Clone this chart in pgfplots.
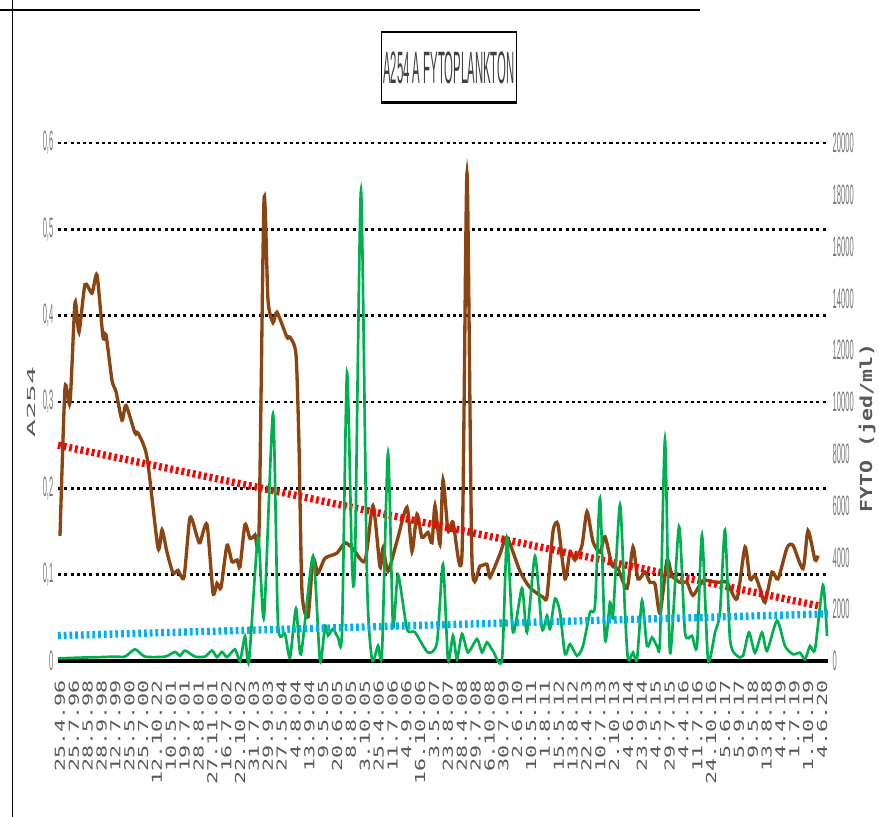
\documentclass[border=0pt]{standalone}
\usepackage{fontspec}
\usepackage{pgfplots}
\pgfplotsset{compat=1.18}
\setmainfont{Liberation Sans}
\newfontfamily\tickfont[FakeStretch=0.27]{Liberation Sans}
\newfontfamily\titlefont[FakeStretch=0.25]{Liberation Sans}
\newfontfamily\xlabfont[FakeStretch=1.58]{DejaVu Sans Mono}
\newfontfamily\alabfont[FakeStretch=2.7]{DejaVu Sans Mono}
\newfontfamily\flabfont[FakeStretch=1.3]{DejaVu Sans Mono}
\definecolor{brn}{RGB}{139,69,19}
\definecolor{grn}{RGB}{0,176,80}
\definecolor{blu}{RGB}{0,176,240}
\definecolor{tk}{RGB}{120,120,120}
\definecolor{lab}{RGB}{89,89,89}
\definecolor{ttl}{RGB}{64,64,64}

\pgfplotstableread{
x y
60 0.145
65 0.316
70 0.299
75 0.415
79 0.381
85 0.436
92 0.426
97 0.447
103 0.375
106 0.378
112 0.325
116 0.312
122 0.279
126 0.296
135 0.264
138 0.264
147 0.236
158 0.131
162 0.152
167 0.126
173 0.102
178 0.105
184 0.097
190 0.166
197 0.144
200 0.137
207 0.158
213 0.079
217 0.090
221 0.085
227 0.134
232 0.115
237 0.117
240 0.109
245 0.158
250 0.142
255 0.146
259 0.150
264 0.534
268 0.418
273 0.392
277 0.404
287 0.375
290 0.375
296 0.355
299 0.250
302 0.080
308 0.051
313 0.118
318 0.102
325 0.119
337 0.125
345 0.137
353 0.130
365 0.116
373 0.180
380 0.109
383 0.131
388 0.104
397 0.139
407 0.178
412 0.127
417 0.170
422 0.143
428 0.149
432 0.137
435 0.180
440 0.135
443 0.210
448 0.151
453 0.161
462 0.124
467 0.565
472 0.116
480 0.110
487 0.112
490 0.097
500 0.124
507 0.143
520 0.104
530 0.085
543 0.074
547 0.075
553 0.150
558 0.158
565 0.095
570 0.126
575 0.117
582 0.134
587 0.173
593 0.138
600 0.126
605 0.144
612 0.111
618 0.107
627 0.084
633 0.132
638 0.095
645 0.103
650 0.091
655 0.089
660 0.055
667 0.117
672 0.099
680 0.091
687 0.091
693 0.076
703 0.093
717 0.091
727 0.091
737 0.072
745 0.132
750 0.095
755 0.099
760 0.084
765 0.068
772 0.103
778 0.095
787 0.131
793 0.134
803 0.107
808 0.151
815 0.117
818 0.122
}\abs

\pgfplotstableread{
x y
58 100
80 130
100 150
115 170
125 170
135 450
145 170
165 170
175 350
180 200
185 400
195 170
205 170
212 400
217 150
222 350
227 150
235 450
240 0
245 950
249 0
258 4770
264 1700
273 9540
278 1440
285 1050
290 130
296 2030
301 260
313 4050
320 0
325 1370
328 980
333 1240
338 915
342 1110
347 11140
352 3730
355 3860
361 18170
367 3200
372 65
378 590
382 330
388 8030
393 1370
398 3330
407 1240
415 1110
428 330
437 720
443 3730
448 65
453 980
457 65
462 1045
468 330
477 850
482 330
487 720
493 390
502 65
507 4770
513 1110
522 2810
527 1110
535 4050
542 1240
547 1750
550 1230
555 2410
560 1880
565 260
570 650
577 200
583 580
590 1880
595 2140
600 6290
605 840
610 2270
613 1750
620 6030
625 1880
628 65
633 320
637 65
642 2330
647 580
652 910
657 580
660 840
665 8560
670 320
679 5190
685 1100
692 970
697 580
702 4860
708 65
715 1100
720 1880
725 5060
730 840
737 200
743 200
749 1100
755 320
762 1100
767 390
777 1560
785 580
793 260
800 320
805 65
810 580
815 450
823 2930
827 970
}\fyto

\begin{document}
\begin{tikzpicture}[x=0.75pt,y=-0.75pt]
\useasboundingbox (0,0) rectangle (879,817);
\fill[white] (0,0) rectangle (879,817);
\draw[black, line width=1.1pt] (12.7,0) -- (12.7,817);
\draw[black, line width=1.5pt] (0,10) -- (700,10);

\begin{axis}[
  at={(43.5pt,-495.75pt)}, anchor=south west,
  scale only axis, width=577.5pt, height=388.5pt,
  xmin=58, xmax=828, ymin=0, ymax=0.6,
  axis x line*=bottom, axis y line*=left,
  x axis line style={black, line width=2.4pt, -},
  y axis line style={draw=none},
  major tick length=0pt,
  ytick={0,0.1,0.2,0.3,0.4,0.5,0.6},
  yticklabels={0,{0,1},{0,2},{0,3},{0,4},{0,5},{0,6}},
  yticklabel style={font=\tickfont\fontsize{21}{24}\selectfont, text=tk},
  xtick={60,73.855,...,823},
  xticklabels={25.4.96,25.7.96,28.5.98,28.9.98,12.7.99,25.5.00,25.7.00,12.10.22,10.5.01,19.7.01,28.8.01,27.11.01,16.7.02,22.10.02,31.7.03,29.9.03,27.5.04,4.8.04,13.9.04,9.5.05,20.6.05,8.8.05,3.10.05,25.4.06,11.7.06,4.9.06,16.10.06,3.5.07,23.8.07,28.4.08,29.7.08,6.10.08,30.7.09,2.6.10,10.5.11,1.8.11,15.5.12,13.8.12,22.4.13,10.7.13,2.10.13,4.6.14,23.9.14,4.5.15,29.7.15,4.4.16,11.7.16,24.10.16,5.6.17,5.9.17,9.5.18,13.8.18,4.4.19,1.7.19,1.10.19,4.6.20},
  xticklabel style={rotate=90, anchor=east, inner xsep=14pt, font=\xlabfont\fontsize{10.3}{12}\selectfont, text=lab},
  ymajorgrids,
  major grid style={black, line width=2.2pt, dash pattern=on 2.3pt off 2.4pt},
  clip=false,
]
\addplot[brn, line width=2.5pt, smooth, tension=0.4] table[x=x,y=y]{\abs};
\addplot[red, line width=5.5pt, dash pattern=on 2.1pt off 2.2pt] coordinates {(58,0.250) (818,0.064)};
\end{axis}

\begin{axis}[
  at={(43.5pt,-495.75pt)}, anchor=south west,
  scale only axis, width=577.5pt, height=388.5pt,
  xmin=58, xmax=828, ymin=0, ymax=20000,
  axis x line=none, axis y line*=right,
  y axis line style={draw=none},
  major tick length=0pt,
  scaled y ticks=false,
  ytick={0,2000,...,20000},
  yticklabels={0,2000,4000,6000,8000,10000,12000,14000,16000,18000,20000},
  yticklabel style={font=\tickfont\fontsize{21}{24}\selectfont, text=tk},
  clip=false,
]
\addplot[grn, line width=2pt, smooth, tension=0.4] table[x=x,y=y]{\fyto};
\addplot[blu, line width=5.5pt, dash pattern=on 2.1pt off 2.2pt] coordinates {(58,980) (828,1820)};
\end{axis}

\node[rotate=90, text=lab, font=\alabfont\fontsize{8.25}{10}\selectfont] at (31,402) {A254};
\node[rotate=90, text=lab, font=\flabfont\bfseries\fontsize{12.4}{14}\selectfont] at (867,428) {FYTO (jed/ml)};

\draw[black, line width=0.8pt, fill=white] (381.7,31.7) rectangle (516.7,102.7);
\draw[black, line width=2pt] (381,32) -- (517.4,32);
\draw[black, line width=2.4pt] (381,102.5) -- (517.4,102.5);
\node[text=ttl, font=\titlefont\fontsize{34}{38}\selectfont] at (449,68) {A254 A FYTOPLANKTON};
\end{tikzpicture}
\end{document}
